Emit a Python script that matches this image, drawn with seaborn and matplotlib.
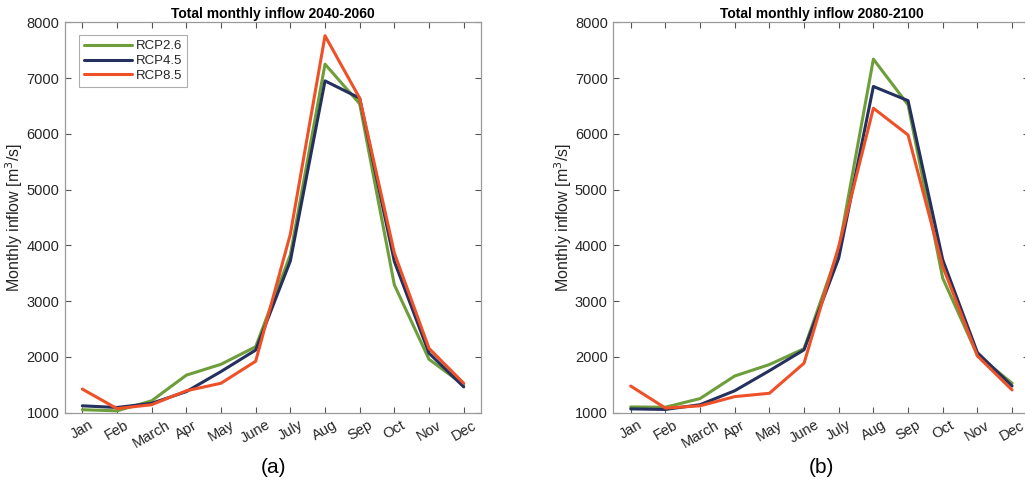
import matplotlib
matplotlib.use("Agg")
import matplotlib.pyplot as plt
import seaborn as sns
import pandas as pd

months = ["Jan", "Feb", "March", "Apr", "May", "June", "July", "Aug", "Sep", "Oct", "Nov", "Dec"]
scenarios = ["RCP2.6", "RCP4.5", "RCP8.5"]

# Total monthly inflow [m3/s], 2040-2060
rcp26_2040 = [1050, 1030, 1210, 1670, 1865, 2180, 3830, 7250, 6540, 3290, 1955, 1495]
rcp45_2040 = [1120, 1090, 1165, 1375, 1735, 2120, 3720, 6950, 6640, 3710, 2065, 1460]
rcp85_2040 = [1420, 1070, 1140, 1390, 1525, 1920, 4200, 7760, 6640, 3860, 2150, 1525]

# Total monthly inflow [m3/s], 2080-2100
rcp26_2080 = [1100, 1095, 1250, 1655, 1860, 2145, 3920, 7340, 6520, 3410, 2030, 1525]
rcp45_2080 = [1065, 1055, 1140, 1390, 1750, 2125, 3770, 6850, 6595, 3740, 2075, 1475]
rcp85_2080 = [1475, 1080, 1120, 1285, 1345, 1885, 3980, 6460, 5980, 3620, 2015, 1405]

titles = ["Total monthly inflow 2040-2060", "Total monthly inflow 2080-2100"]
panel_tags = ["(a)", "(b)"]
palette = {"RCP2.6": "#6E9E3A", "RCP4.5": "#24305E", "RCP8.5": "#EE5128"}


def to_long(series):
    rows = []
    for name, vals in zip(scenarios, series):
        for i, v in enumerate(vals):
            rows.append({"month": i + 1, "inflow": v, "scenario": name})
    return pd.DataFrame(rows)


frames = [
    to_long([rcp26_2040, rcp45_2040, rcp85_2040]),
    to_long([rcp26_2080, rcp45_2080, rcp85_2080]),
]

sns.set_theme(style="white")
plt.rcParams["font.family"] = ["Liberation Sans", "DejaVu Sans"]

fig = plt.figure(figsize=(10.25, 4.97), dpi=100)
axes = [
    fig.add_axes([0.0634, 0.170, 0.4059, 0.785]),
    fig.add_axes([0.5984, 0.170, 0.4059, 0.785]),
]

text_color = "#262626"
for k, (ax, df) in enumerate(zip(axes, frames)):
    sns.lineplot(data=df, x="month", y="inflow", hue="scenario", palette=palette,
                 linewidth=2.2, ax=ax, legend=(k == 0))
    ax.set_xlim(0.5, 12.5)
    ax.set_ylim(1000, 8000)
    ax.set_xticks(range(1, 13))
    ax.set_xticklabels(months, rotation=30, ha="center", fontsize=10.5, color=text_color)
    ax.set_yticks(range(1000, 8001, 1000))
    ax.set_yticklabels([str(v) for v in range(1000, 8001, 1000)], fontsize=10.5, color=text_color)
    ax.tick_params(axis="both", direction="in", length=4, width=0.8, color="#555555",
                   top=True, right=True, bottom=True, left=True, pad=4)
    for s in ax.spines.values():
        s.set_visible(True)
        s.set_color("#9a9a9a")
        s.set_linewidth(0.9)
    ax.set_xlabel("")
    ax.set_ylabel("Monthly inflow [m$^3$/s]", fontsize=11.5, color=text_color, labelpad=1)
    ax.set_title(titles[k], fontsize=10, fontweight="bold", color="black", pad=3)
    # Panel tag centred under each axes
    bbox = ax.get_position()
    fig.text((bbox.x0 + bbox.x1) / 2, 0.060, panel_tags[k], ha="center", va="center",
             fontsize=15, color="black")

leg = axes[0].legend(loc="upper left", bbox_to_anchor=(0.018, 0.985), fontsize=9.5,
                     frameon=True, fancybox=False, handlelength=3.6, borderpad=0.4,
                     labelspacing=0.2, handletextpad=0.3)
leg.get_frame().set_edgecolor("#9a9a9a")
leg.get_frame().set_linewidth(0.8)
for t in leg.get_texts():
    t.set_color(text_color)

fig.savefig("out.png", dpi=100)
